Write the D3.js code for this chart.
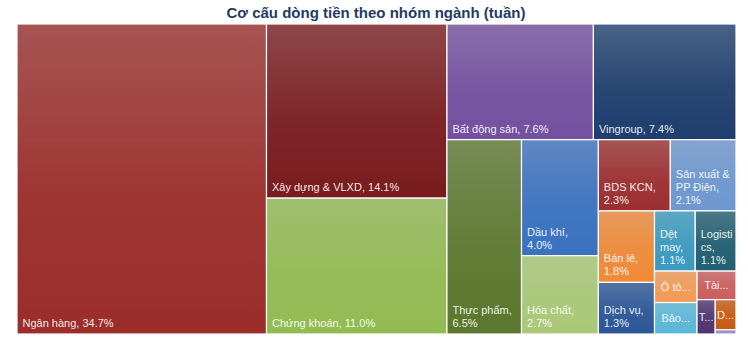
<!DOCTYPE html>
<html>
<head>
<meta charset="utf-8">
<script src="https://cdn.jsdelivr.net/npm/d3@7"></script>
<style>
  html, body { margin: 0; padding: 0; background: #fff; }
  svg { display: block; }
</style>
</head>
<body>
<svg id="chart" width="748" height="344"></svg>
<script>
// Data (share of weekly money flow, %)
const sectors = [
  "Ngân hàng", "Xây dựng & VLXD", "Chứng khoán", "Bất động sản", "Vingroup",
  "Thực phẩm", "Dầu khí", "Hóa chất", "BDS KCN", "Sản xuất & PP Điện",
  "Bán lẻ", "Dịch vụ", "Dệt may", "Logistics", "Ô tô phụ tùng",
  "Bảo hiểm", "Tài chính", "Thủy sản", "Dược phẩm", "Công nghệ"
];
const shares = [
  34.7, 14.1, 11.0, 7.6, 7.4,
  6.5, 4.0, 2.7, 2.3, 2.1,
  1.8, 1.3, 1.1, 1.1, 0.6,
  0.6, 0.5, 0.28, 0.28, 0.04
];
const sectorColors = [
  "#9b2d2b", "#7a1c1e", "#93bb52", "#7450a0", "#1f3e6e",
  "#5b782e", "#3a72c0", "#a9c977", "#9c2f30", "#6e98d0",
  "#f08a38", "#2c5698", "#3a9ac0", "#215f72", "#f59a55",
  "#5ab8d8", "#cc5e5e", "#4e3470", "#c85a10", "#9a8cd0"
];
const title = "Cơ cấu dòng tiền theo nhóm ngành (tuần)";

const svg = d3.select("#chart");
const margin = { top: 24, right: 12, bottom: 10, left: 17 };
const width = 748 - margin.left - margin.right;
const height = 344 - margin.top - margin.bottom;

svg.append("text")
  .attr("x", 376)
  .attr("y", 18)
  .attr("text-anchor", "middle")
  .style("font-family", "'Liberation Sans', Arial, sans-serif")
  .style("font-size", "15px")
  .style("font-weight", "bold")
  .style("fill", "#1f3b66")
  .text(title);

// squarified tiling like d3's own, but allowing a ratio below 1 (Excel-like rows)
function tileSquare(ratio) {
  return function (parent, x0, y0, x1, y1) {
    const nodes = parent.children;
    const n = nodes.length;
    let value = parent.value, i0 = 0, i1 = 0;
    while (i0 < n) {
      const dx = x1 - x0, dy = y1 - y0;
      let sumValue, nodeValue;
      do sumValue = nodes[i1++].value; while (!sumValue && i1 < n);
      let minValue = sumValue, maxValue = sumValue;
      const alpha = Math.max(dy / dx, dx / dy) / (value * ratio);
      let beta = sumValue * sumValue * alpha;
      let minRatio = Math.max(maxValue / beta, beta / minValue);
      for (; i1 < n; ++i1) {
        sumValue += nodeValue = nodes[i1].value;
        if (nodeValue < minValue) minValue = nodeValue;
        if (nodeValue > maxValue) maxValue = nodeValue;
        beta = sumValue * sumValue * alpha;
        const newRatio = Math.max(maxValue / beta, beta / minValue);
        if (newRatio > minRatio) { sumValue -= nodeValue; break; }
        minRatio = newRatio;
      }
      const row = { value: sumValue, children: nodes.slice(i0, i1) };
      if (dx < dy) d3.treemapDice(row, x0, y0, x1, value ? (y0 += dy * sumValue / value) : y1);
      else d3.treemapSlice(row, x0, y0, value ? (x0 += dx * sumValue / value) : x1, y1);
      value -= sumValue;
      i0 = i1;
    }
  };
}

const items = sectors.map((name, i) => ({ name, value: shares[i], color: sectorColors[i] }));
const root = d3.hierarchy({ children: items })
  .sum((d) => d.value || 0)
  .sort((a, b) => b.value - a.value);

d3.treemap()
  .size([width, height])
  .tile(tileSquare(0.765))(root);

const g = svg.append("g").attr("transform", `translate(${margin.left},${margin.top})`);
const defs = svg.append("defs");

root.leaves().forEach((d, i) => {
  const grad = defs.append("linearGradient")
    .attr("id", "grad" + i)
    .attr("x1", 0).attr("y1", 0).attr("x2", 0).attr("y2", 1);
  grad.append("stop").attr("offset", "0%")
    .attr("stop-color", d3.interpolateRgb(d.data.color, "#c8c8c8")(0.25));
  grad.append("stop").attr("offset", "55%")
    .attr("stop-color", d3.interpolateRgb(d.data.color, "#c8c8c8")(0.06));
  grad.append("stop").attr("offset", "100%").attr("stop-color", d.data.color);
  d.gradId = "grad" + i;
});

const cell = g.selectAll("g.cell")
  .data(root.leaves())
  .enter()
  .append("g")
  .attr("class", "cell")
  .attr("transform", (d) => `translate(${d.x0},${d.y0})`);

cell.append("rect")
  .attr("width", (d) => d.x1 - d.x0)
  .attr("height", (d) => d.y1 - d.y0)
  .style("fill", (d) => `url(#${d.gradId})`)
  .style("stroke", "#fff")
  .style("stroke-width", 1.2);

// Labels: wrap at bottom-left, otherwise truncate and center
const lineH = 13;
const measure = svg.append("text")
  .style("font-family", "'Liberation Sans', Arial, sans-serif")
  .style("font-size", "11px")
  .attr("visibility", "hidden");
const textW = (s) => measure.text(s).node().getComputedTextLength();

function wrapLabel(label, maxW) {
  const words = label.split(" ");
  const lines = [];
  let line = "";
  words.forEach((w) => {
    const trial = line ? line + " " + w : w;
    if (textW(trial) <= maxW) { line = trial; return; }
    if (line) lines.push(line);
    line = w;
    while (textW(line) > maxW && line.length > 1) {
      let k = line.length - 1;
      while (k > 1 && textW(line.slice(0, k)) > maxW) k--;
      lines.push(line.slice(0, k));
      line = line.slice(k);
    }
  });
  if (line) lines.push(line);
  return lines;
}

function truncLabel(name, maxW) {
  const words = name.split(" ");
  for (let k = words.length - 1; k >= 1; k--) {
    const s = words.slice(0, k).join(" ") + "...";
    if (textW(s) <= maxW) return s;
  }
  for (let k = words[0].length - 1; k >= 1; k--) {
    const s = words[0].slice(0, k) + "...";
    if (textW(s) <= maxW) return s;
  }
  return "";
}

cell.each(function (d) {
  const w = d.x1 - d.x0, h = d.y1 - d.y0;
  const label = `${d.data.name}, ${d.data.value.toFixed(1)}%`;
  const lines = wrapLabel(label, w - 8);
  const sel = d3.select(this);
  const txt = sel.append("text")
    .style("font-family", "'Liberation Sans', Arial, sans-serif")
    .style("font-size", "11px")
    .style("fill", "#fff")
    .style("fill-opacity", 0.92);
  if (lines.length * lineH + 4 <= h) {
    lines.forEach((ln, j) => {
      txt.append("tspan")
        .attr("x", 5.5)
        .attr("y", h - 7 - (lines.length - 1 - j) * lineH)
        .text(ln);
    });
  } else if (h >= 12) {
    txt.attr("text-anchor", "middle")
      .attr("x", w / 2)
      .attr("y", h / 2 + 4)
      .text(truncLabel(d.data.name, w - 2));
  }
});

measure.remove();
</script>
</body>
</html>
